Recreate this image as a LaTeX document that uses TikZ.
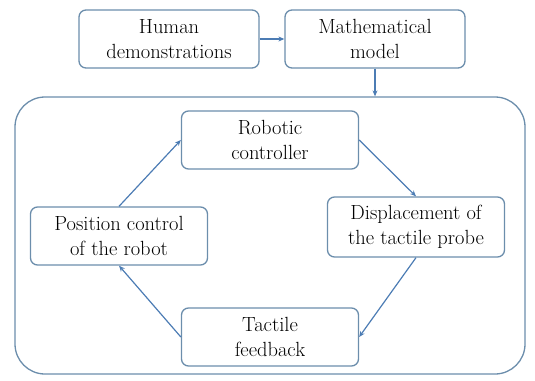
\documentclass[tikz,border=0pt]{standalone}
\usetikzlibrary{arrows.meta}
\definecolor{boxblue}{RGB}{108,142,172}
\definecolor{arrowblue}{RGB}{76,124,180}

\begin{document}
\begin{tikzpicture}[x=1pt,y=-1pt]
  \tikzset{BoxStyle/.style = {
      shape = rectangle,
      draw = boxblue,
      line width = 1.3pt,
      rounded corners = 7pt,
      align = center,
      font = \fontsize{20.5}{25.5}\selectfont,
      minimum width = 177pt,
      minimum height = 58pt,
      inner sep = 0pt},
    FlowStyle/.style = {
      draw = arrowblue,
      line width = 1.2pt,
      -{Stealth[length=6pt,width=5pt]}}}
  \useasboundingbox (0,0) rectangle (535,380);
  % outer loop frame
  \node[draw=boxblue, line width=1.3pt, rounded corners=30pt,
        minimum width=510pt, minimum height=277pt, inner sep=0pt] (loop) at (270,235.5) {};
  % top row
  \node[BoxStyle, minimum width=180pt] (human) at (169,39) {Human\\demonstrations};
  \node[BoxStyle, minimum width=180pt] (model) at (375,39) {Mathematical\\model};
  % the loop
  \node[BoxStyle] (ctrl) at (270,140) {Robotic\\controller};
  \node[BoxStyle, minimum height=60pt] (probe) at (416,227) {Displacement of\\the tactile probe};
  \node[BoxStyle] (feedback) at (270,337) {Tactile\\feedback};
  \node[BoxStyle] (position) at (119,236) {Position control\\of the robot};
  % connectors
  \draw[FlowStyle] (human) -- (model);
  \draw[FlowStyle] (model.south) -- (model.south |- loop.north);
  \draw[FlowStyle] (position.north) -- (ctrl.west);
  \draw[FlowStyle] (ctrl.east) -- (probe.north);
  \draw[FlowStyle] (probe.south) -- (feedback.east);
  \draw[FlowStyle] (feedback.west) -- (position.south);
\end{tikzpicture}
\end{document}
